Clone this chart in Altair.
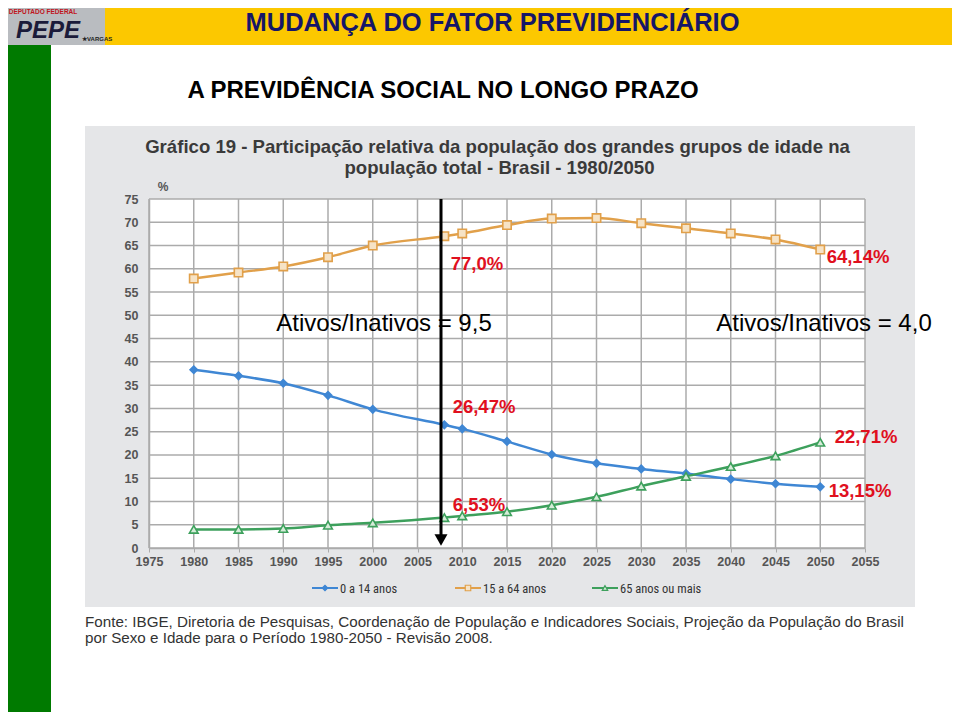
import altair as alt
import pandas as pd

# ---------------- data ----------------
years = [1980, 1985, 1990, 1995, 2000, 2008, 2010, 2015, 2020, 2025, 2030, 2035, 2040, 2045, 2050]
age_0_14 = [38.3, 37.0, 35.4, 32.8, 29.8, 26.47, 25.6, 22.9, 20.1, 18.2, 17.0, 16.0, 14.8, 13.8, 13.15]
age_15_64 = [57.9, 59.2, 60.5, 62.5, 65.0, 67.0, 67.6, 69.4, 70.8, 70.9, 69.8, 68.7, 67.6, 66.3, 64.14]
age_65_plus = [4.0, 4.0, 4.2, 4.9, 5.4, 6.53, 6.9, 7.8, 9.2, 11.0, 13.3, 15.4, 17.5, 19.8, 22.71]
series_names = ["0 a 14 anos", "15 a 64 anos", "65 anos ou mais"]
x_ticks = list(range(1975, 2056, 5))
y_ticks = list(range(0, 76, 5))

frames = []
for name, vals in zip(series_names, [age_0_14, age_15_64, age_65_plus]):
    frames.append(pd.DataFrame({"year": years, "value": vals, "serie": name}))
df = pd.concat(frames, ignore_index=True)
one = pd.DataFrame({"k": [0]})

BLUE, ORANGE, GREEN = "#3f87d4", "#e1a04a", "#3da05c"
RED = "#e0101e"
NARROW = "Liberation Sans Narrow, Roboto Condensed, Liberation Sans, sans-serif"
GRID = "#ababab"

xscale = alt.Scale(domain=[1975, 2055], nice=False, zero=False)
yscale = alt.Scale(domain=[0, 75], nice=False)
xaxis = alt.Axis(values=x_ticks, format="d", title=None, grid=False, zindex=1, labelOverlap=False,
                 labelFlush=False,
                 domainColor=GRID, domainWidth=1.5, tickColor=GRID, tickSize=4, labelPadding=3,
                 labelFontSize=12.5, labelFontWeight="bold", labelColor="#555555",
                 labelFont="Liberation Sans")
yaxis = alt.Axis(values=y_ticks, title=None, grid=False, zindex=1, labelOverlap=False,
                 labelFlush=False,
                 domainColor=GRID, domainWidth=1.5, ticks=False, labelPadding=11,
                 labelFontSize=12.5, labelFontWeight="bold", labelColor="#555555",
                 labelFont="Liberation Sans")


def rect(x1, x2, y1, y2, color):
    return alt.Chart(one).mark_rect(color=color).encode(
        x=alt.value(x1), x2=alt.value(x2), y=alt.value(y1), y2=alt.value(y2))


def txt(s, x, y, size, color="#000000", weight="normal", align="center", font="Liberation Sans",
        style="normal"):
    return alt.Chart(one).mark_text(text=s, fontSize=size, color=color, fontWeight=weight,
                                    align=align, baseline="alphabetic", font=font,
                                    fontStyle=style).encode(x=alt.value(x), y=alt.value(y))


layers = []
# slide decoration
layers.append(rect(-44, 803, -197, -154, "#fcc800"))          # yellow header
layers.append(rect(-149, -44, -199, -154, "#b9bcc0"))         # logo box
layers.append(rect(-145, -98, -154, 515, "#007a00"))          # green band
# grey chart panel around the plot area
PANEL = "#e5e6e8"
layers.append(rect(-64, 766, -73, 0, PANEL))
layers.append(rect(-64, 766, 349, 408, PANEL))
layers.append(rect(-64, 0, 0, 349, PANEL))
layers.append(rect(716, 766, 0, 349, PANEL))

# logo texts
layers.append(txt("DEPUTADO FEDERAL", -106, -185.5, 6.5, "#c0141c", "bold"))
layers.append(txt("PEPE", -101, -161, 24, "#1b1b3a", "bold", style="italic"))
layers.append(txt("★VARGAS", -67, -158, 6, "#222222", "bold", align="left"))

# slide titles
layers.append(txt("MUDANÇA DO FATOR PREVIDENCIÁRIO", 343.5, -168, 25.5, "#161668", "bold"))
layers.append(txt("A PREVIDÊNCIA SOCIAL NO LONGO PRAZO", 294, -101, 24, "#000000", "bold"))

# chart title
layers.append(txt("Gráfico 19 - Participação relativa da população dos grandes grupos de idade na",
                  348.5, -46, 18.6, "#3a3a3a", "bold"))
layers.append(txt("população total - Brasil - 1980/2050", 350.5, -25, 18.6, "#3a3a3a", "bold"))
layers.append(txt("%", 14, -8, 12, "#555555", "bold"))

X = alt.X("year:Q", scale=xscale, axis=xaxis)
Y = alt.Y("value:Q", scale=yscale, axis=yaxis)

# grid drawn from the tick arrays through the scales
layers.append(alt.Chart(pd.DataFrame({"year": x_ticks})).mark_rule(color=GRID, strokeWidth=1.5).encode(x=X))
layers.append(alt.Chart(pd.DataFrame({"value": y_ticks})).mark_rule(color=GRID, strokeWidth=1.5).encode(y=Y))

# data series
base = alt.Chart(df)
marker = {
    "0 a 14 anos": dict(shape="diamond", size=55, fill=BLUE, stroke=BLUE),
    "15 a 64 anos": dict(shape="square", size=70, fill="#f6e3c6", stroke=ORANGE),
    "65 anos ou mais": dict(shape="triangle-up", size=75, fill="#d6ecd9", stroke=GREEN),
}
colors = {"0 a 14 anos": BLUE, "15 a 64 anos": ORANGE, "65 anos ou mais": GREEN}
for name in series_names:
    sub = base.transform_filter(alt.datum.serie == name)
    line = sub.mark_line(color=colors[name], strokeWidth=2.5, interpolate="monotone").encode(x=X, y=Y)
    m = marker[name]
    pts = sub.mark_point(shape=m["shape"], size=m["size"], filled=True, fill=m["fill"],
                         stroke=m["stroke"], strokeWidth=1.6, opacity=1).encode(x=X, y=Y)
    layers += [line, pts]

# arrow
layers.append(alt.Chart(one).mark_rule(color="#000000", strokeWidth=3).encode(
    x=alt.value(292), y=alt.value(0), y2=alt.value(337)))
layers.append(alt.Chart(one).mark_point(shape="triangle-down", size=170, filled=True,
                                        color="#000000", opacity=1).encode(
    x=alt.value(292), y=alt.value(341)))

# annotations
layers.append(txt("77,0%", 328, 71, 18.5, RED, "bold"))
layers.append(txt("64,14%", 709, 64, 18.5, RED, "bold"))
layers.append(txt("26,47%", 335, 214, 18.5, RED, "bold"))
layers.append(txt("6,53%", 330, 312, 18.5, RED, "bold"))
layers.append(txt("22,71%", 717, 244, 18.5, RED, "bold"))
layers.append(txt("13,15%", 711, 298, 18.5, RED, "bold"))
layers.append(txt("Ativos/Inativos = 9,5", 235, 132, 24))
layers.append(txt("Ativos/Inativos = 4,0", 675, 132, 24))

# legend (manual)
leg = [(163, 189, 191, "0 a 14 anos", BLUE, "diamond", BLUE),
       (306, 332, 334, "15 a 64 anos", ORANGE, "square", "#f6e3c6"),
       (443, 469, 471, "65 anos ou mais", GREEN, "triangle-up", "#d6ecd9")]
for x1, x2, xt, label, col, shp, fil in leg:
    layers.append(alt.Chart(one).mark_rule(color=col, strokeWidth=2).encode(
        x=alt.value(x1), x2=alt.value(x2), y=alt.value(389)))
    layers.append(alt.Chart(one).mark_point(shape=shp, size=30, filled=True, fill=fil, stroke=col,
                                            strokeWidth=1.2, opacity=1).encode(
        x=alt.value((x1 + x2) / 2), y=alt.value(389)))
    layers.append(txt(label, xt, 393.5, 12.5, "#333333", align="left", font=NARROW))

# source
layers.append(txt("Fonte: IBGE, Diretoria de Pesquisas, Coordenação de População e Indicadores Sociais, "
                  "Projeção da População do Brasil", -64, 427.5, 15.2, "#333333", align="left",
                  font="Liberation Sans"))
layers.append(txt("por Sexo e Idade para o Período 1980-2050 - Revisão 2008.", -64, 444, 15.2, "#333333",
                  align="left", font="Liberation Sans"))

chart = alt.layer(*layers).properties(
    width=716, height=349,
    padding={"left": 141, "top": 191, "right": 87, "bottom": 164},
    autosize=alt.AutoSizeParams(type="none"),
    background="white",
).configure_view(fill="white", stroke=None)

chart.save("out.html", embed_options={"renderer": "svg", "actions": False})
